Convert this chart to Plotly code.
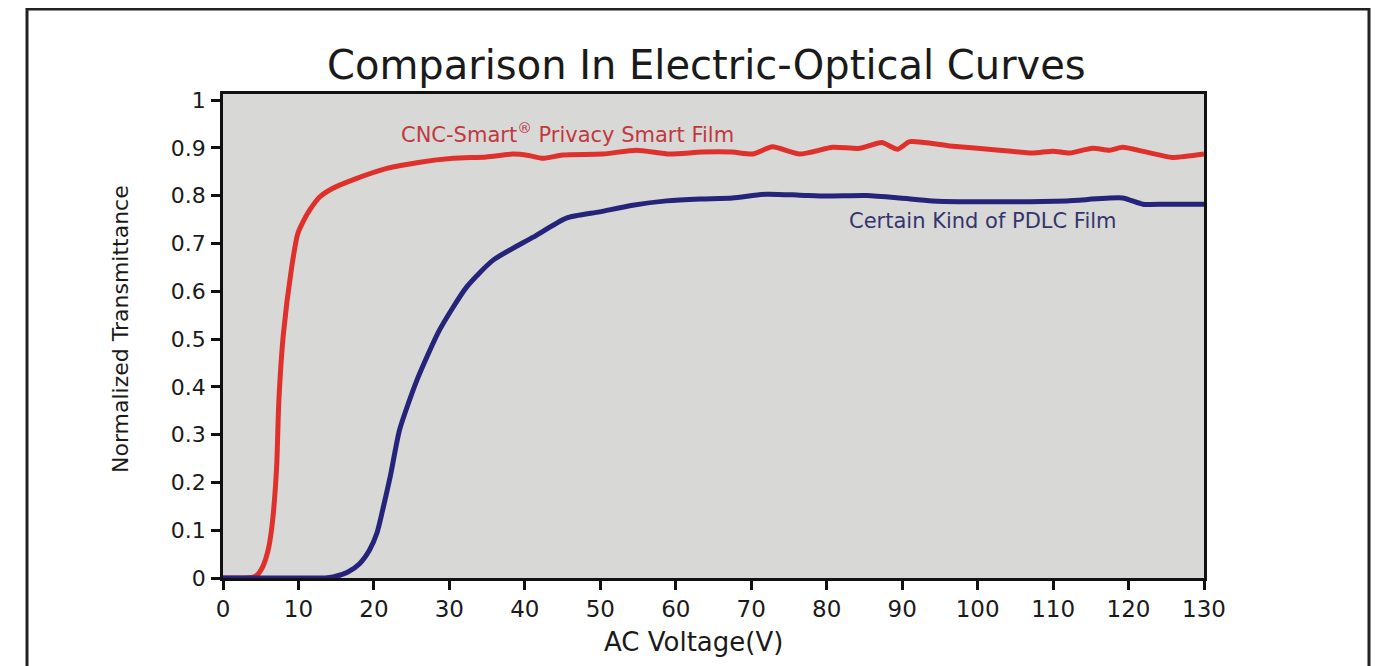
import plotly.graph_objects as go

# ---- data ----
red_name = "CNC-Smart<sup>®</sup> Privacy Smart Film"
red_v = [0, 2, 4, 4.5, 5.3, 6.0, 6.5, 7.1, 7.4, 8.0, 9.1, 9.9, 10.6, 11.5, 12.8, 14.5, 17.2,
         21.7, 26.1, 30.5, 34.9, 38.4, 40.5, 42.4, 45, 50.3, 54.8, 59.2, 63.4, 67.5,
         70.2, 72.8, 76.4, 80.8, 84.4, 87.3, 89.4, 91, 96.3, 102.9, 107.3, 110, 112.2,
         115.2, 117.5, 119.2, 122.4, 125.8, 130]
red_t = [0, 0, 0.002, 0.006, 0.025, 0.06, 0.11, 0.23, 0.37, 0.51, 0.65, 0.72, 0.745, 0.77,
         0.797, 0.815, 0.833, 0.857, 0.870, 0.878, 0.881, 0.887, 0.884, 0.878, 0.885,
         0.887, 0.895, 0.887, 0.891, 0.891, 0.887, 0.902, 0.887, 0.901, 0.899, 0.911,
         0.897, 0.913, 0.904, 0.895, 0.889, 0.893, 0.889, 0.899, 0.895, 0.901, 0.891,
         0.880, 0.887]

blue_name = "Certain Kind of PDLC Film"
blue_v = [0, 10, 13.5, 14.6, 16.5, 18.1, 19.4, 20.4, 21.2, 22.2, 23.4, 25.7, 28.7, 32.3,
          35.8, 41.1, 45.5, 49.9, 54.3, 58.8, 63.2, 67.5, 72, 76.4, 80, 85.3, 89.7, 94,
          102.9, 111.8, 119.2, 121.9, 125, 130]
blue_t = [0, 0, 0, 0.002, 0.012, 0.03, 0.058, 0.094, 0.145, 0.215, 0.31, 0.414, 0.519,
          0.609, 0.665, 0.713, 0.753, 0.766, 0.780, 0.789, 0.793, 0.795, 0.803, 0.801,
          0.799, 0.800, 0.795, 0.789, 0.787, 0.789, 0.795, 0.782, 0.782, 0.782]

x_ticks = list(range(0, 131, 10))
y_ticks = [0, 0.1, 0.2, 0.3, 0.4, 0.5, 0.6, 0.7, 0.8, 0.9, 1]
y_tick_labels = ["0", "0.1", "0.2", "0.3", "0.4", "0.5", "0.6", "0.7", "0.8", "0.9", "1"]

title_text = "Comparison In Electric-Optical Curves"
x_title = "AC Voltage(V)"
y_title = "Normalized Transmittance"

FONT = "DejaVu Sans"
RED = "#e0302b"
BLUE = "#25237a"

fig = go.Figure()
fig.add_trace(go.Scatter(x=red_v, y=red_t, mode="lines",
                         line=dict(color=RED, width=5, shape="spline", smoothing=0.6),
                         showlegend=False))
fig.add_trace(go.Scatter(x=blue_v, y=blue_t, mode="lines",
                         line=dict(color=BLUE, width=5, shape="spline", smoothing=0.6),
                         showlegend=False))

# page is offset by the 8px body margin
OFF = 8
W, H = 1379 - OFF, 666 - OFF
PL, PR, PT, PB = 223, 1204, 94, 578  # plot area in page pixels
L, R, T, B = PL - OFF, 1379 - PR, PT - OFF, 666 - PB
pw, ph = PR - PL, PB - PT

def px(xp):
    return (xp - PL) / pw

def py(yp):
    return (PB - yp) / ph

fig.update_layout(
    width=W, height=H,
    margin=dict(l=L, r=R, t=T, b=B),
    paper_bgcolor="white",
    plot_bgcolor="#d8d8d6",
    font=dict(family=FONT, color="#1a1a1a"),
    shapes=[dict(type="rect", xref="paper", yref="paper",
                 x0=px(27), x1=px(1369), y0=py(680), y1=py(9),
                 line=dict(color="#222222", width=3), layer="below")],
    annotations=[
        dict(text=title_text, xref="paper", yref="paper", x=px(706), y=py(65),
             showarrow=False, font=dict(size=40, color="#1a1a1a", family=FONT),
             xanchor="center", yanchor="middle"),
        dict(text=x_title, xref="paper", yref="paper", x=px(693), y=py(642),
             showarrow=False, font=dict(size=26, color="#1a1a1a", family=FONT),
             xanchor="center", yanchor="middle"),
        dict(text=y_title, xref="paper", yref="paper", x=px(120), y=py(329),
             showarrow=False, textangle=-90,
             font=dict(size=22, color="#1a1a1a", family=FONT),
             xanchor="center", yanchor="middle"),
        dict(text=red_name, x=45.7, y=0.931, xref="x", yref="y", showarrow=False,
             font=dict(size=21, color="#c0393f", family=FONT),
             xanchor="center", yanchor="middle"),
        dict(text=blue_name, x=100.7, y=0.747, xref="x", yref="y", showarrow=False,
             font=dict(size=21, color="#35356e", family=FONT),
             xanchor="center", yanchor="middle"),
    ],
)

fig.update_xaxes(range=[0, 130], tickvals=x_ticks, ticktext=[str(v) for v in x_ticks],
                 ticks="outside", ticklen=9, tickwidth=2.5, tickcolor="#111",
                 showline=True, linecolor="#111", linewidth=2.5, mirror=True,
                 showgrid=False, zeroline=False,
                 tickfont=dict(size=23, color="#1a1a1a", family=FONT),
                 ticklabelstandoff=0)
fig.update_yaxes(range=[0, 1.0126], tickvals=y_ticks, ticktext=y_tick_labels,
                 ticks="outside", ticklen=9, tickwidth=2.5, tickcolor="#111",
                 showline=True, linecolor="#111", linewidth=2.5, mirror=True,
                 showgrid=False, zeroline=False,
                 tickfont=dict(size=22, color="#1a1a1a", family=FONT),
                 ticklabelstandoff=1)

fig.write_html("out.html")
